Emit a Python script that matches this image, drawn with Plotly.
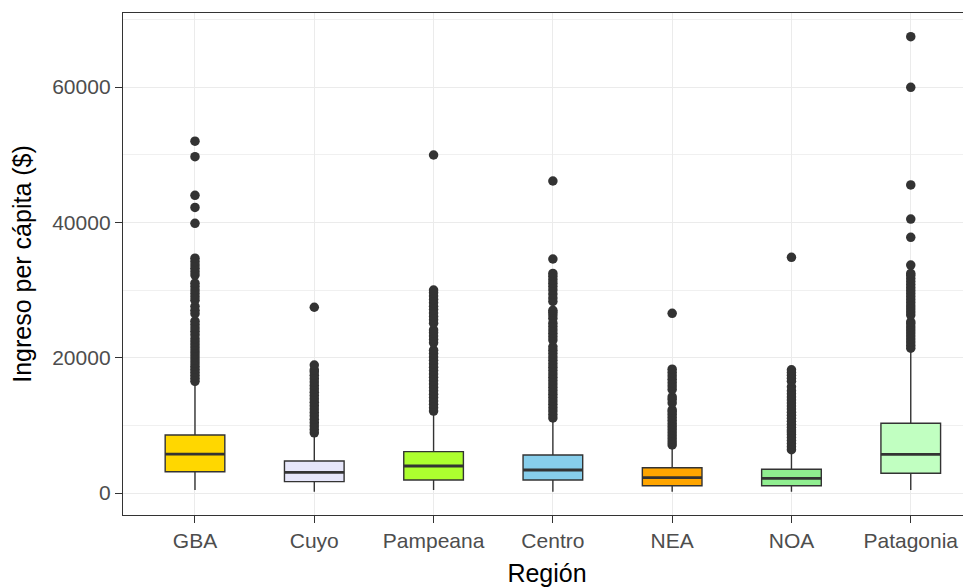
import plotly.graph_objects as go

regions = ["GBA", "Cuyo", "Pampeana", "Centro", "NEA", "NOA", "Patagonia"]
fill_colors = ["#FFD700", "#E6E6FA", "#ADFF2F", "#87CEEB", "#FFA500", "#90EE90", "#C1FFC1"]

q1 = [3150, 1680, 1920, 1920, 1080, 1080, 2910]
medians = [5760, 3050, 3990, 3400, 2270, 2170, 5720]
q3 = [8570, 4730, 6110, 5620, 3740, 3500, 10300]
lower_whisker = [440, 200, 440, 190, 190, 190, 440]
upper_whisker = [16250, 8570, 11780, 10790, 6850, 6100, 21130]

outliers_gba = [16500, 16950, 17400, 17850, 18300, 18750, 19200, 19650, 20100, 20550,
                21000, 21450, 21900, 22350, 22800,
                23400, 23900, 24400, 24900, 25400,
                26500, 27000, 27600,
                28500, 29000, 29500, 30000, 30500, 31000,
                32200, 32700, 33200, 33700, 34200, 34700,
                39850, 42200, 44000, 49700, 52000]
outliers_cuyo = [8900, 9400, 9900, 10400, 10900, 11400, 11900, 12400, 12900, 13400,
                 13900, 14400, 14900, 15400, 15900, 16400, 16900, 17400, 17900, 18200,
                 18900, 27450]
outliers_pampeana = [12100, 12600, 13100, 13600, 14100, 14600, 15100, 15600, 16100, 16600,
                     17100, 17600, 18100, 18600, 19100, 19600, 20100, 20600, 21100,
                     22200, 22700, 23200, 23700, 24100,
                     25100, 25600, 26100, 26600,
                     27100, 27600, 28100, 28600, 29100, 29600, 30000,
                     49950]
outliers_centro = [11100, 11600, 12100, 12600, 13100, 13600, 14100, 14600, 15100, 15600,
                   16100, 16600, 17100, 17600, 18100, 18600, 19100, 19600, 20100, 20600,
                   21100, 21600,
                   22600, 23100, 23600, 24100, 24600, 25100, 25800,
                   26300, 26700, 27000,
                   28300, 28800, 29400, 30000,
                   30500, 31000, 31500, 32000, 32450,
                   34580, 46110]
outliers_nea = [7100, 7550, 8000, 8450, 8900, 9350, 9800, 10250, 10700, 11150, 11600,
                12000, 12300,
                13300, 13800, 14200,
                15300, 15800, 16300, 16800, 17300, 17800, 18300,
                26550]
outliers_noa = [6400, 6850, 7300, 7750, 8200, 8650, 9000, 9300,
                9700, 10150, 10600, 11050, 11500, 11950, 12400, 12850, 13300, 13750,
                14200, 14650, 15100, 15700,
                16500, 16950, 17400, 17800, 18200,
                34830]
outliers_patagonia = [21400, 21850, 22300, 22750, 23200, 23650, 24100, 24550, 25000, 25300,
                      26300, 26750, 27200, 27650, 28100, 28550, 29000, 29450, 29900,
                      30350, 30800, 31250, 31700, 32150, 32450,
                      33690, 37790, 40490, 45520, 59960, 67430]
outliers = [outliers_gba, outliers_cuyo, outliers_pampeana, outliers_centro,
            outliers_nea, outliers_noa, outliers_patagonia]

y_ticks = [0, 20000, 40000, 60000]
y_tick_labels = ["0", "20000", "40000", "60000"]

box_width = 0.5
dark = "#333333"
font_family = "Liberation Sans, Arial, sans-serif"

fig = go.Figure()
for i, name in enumerate(regions):
    fig.add_trace(go.Box(
        x=[i], q1=[q1[i]], median=[medians[i]], q3=[q3[i]],
        lowerfence=[lower_whisker[i]], upperfence=[upper_whisker[i]],
        width=box_width, whiskerwidth=0, fillcolor=fill_colors[i],
        line=dict(color=dark, width=1.4), boxpoints=False,
        name=name, showlegend=False, hoverinfo="skip"))
    fig.add_trace(go.Scatter(
        x=[i - box_width / 2, i + box_width / 2], y=[medians[i], medians[i]],
        mode="lines", line=dict(color=dark, width=2.8),
        showlegend=False, hoverinfo="skip"))
    fig.add_trace(go.Scatter(
        x=[i] * len(outliers[i]), y=outliers[i], mode="markers",
        marker=dict(color=dark, size=9.5, line=dict(width=0)),
        showlegend=False, hoverinfo="skip"))

fig.update_layout(
    width=963, height=579,
    margin=dict(l=115, r=0, t=5, b=72),
    paper_bgcolor="white", plot_bgcolor="white",
    font=dict(family=font_family),
    boxmode="overlay",
)
fig.update_xaxes(
    range=[-0.6035, 6.505], tickvals=list(range(len(regions))), ticktext=regions,
    showgrid=True, gridcolor="#EBEBEB", gridwidth=1.2, zeroline=False,
    showline=True, linecolor=dark, linewidth=1.4, mirror=True,
    ticks="outside", ticklen=7, tickcolor=dark, tickwidth=1.2,
    tickfont=dict(size=21, color="#4D4D4D"), automargin=False,
    title=dict(text="Región", font=dict(size=25, color="black"), standoff=14),
)
fig.update_yaxes(
    range=[-3251, 70936], tickvals=y_ticks, ticktext=y_tick_labels,
    showgrid=True, gridcolor="#EBEBEB", gridwidth=1.2, zeroline=False,
    minor=dict(tickvals=[10000, 30000, 50000, 70000], showgrid=True,
               gridcolor="#F0F0F0", gridwidth=1, ticklen=0),
    showline=True, linecolor=dark, linewidth=1.4, mirror=False,
    ticks="outside", ticklen=7, tickcolor=dark, tickwidth=1.2,
    tickfont=dict(size=21, color="#4D4D4D"), automargin=False,
    title=dict(text="Ingreso per cápita ($)", font=dict(size=25, color="black"), standoff=16),
)

fig.write_html("out.html")
